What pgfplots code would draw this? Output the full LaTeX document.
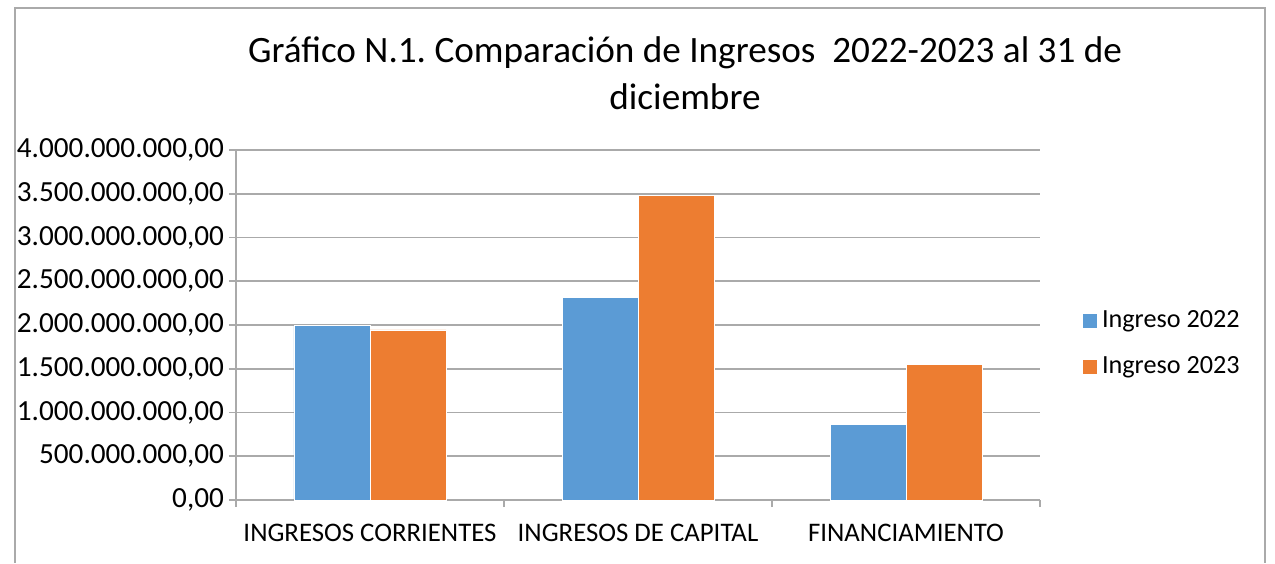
\documentclass[border=0pt]{standalone}
\usepackage{pgfplots}
\pgfplotsset{compat=1.18}
\usepackage{fontspec}
\setmainfont{Carlito}
\frenchspacing
\definecolor{b22}{HTML}{5B9BD5}
\definecolor{o23}{HTML}{ED7D31}
\definecolor{gridg}{RGB}{170,170,170}
\begin{document}
\begin{tikzpicture}
\path[use as bounding box] (0,0) rectangle (637.5pt,281.5pt);
\draw[gridg, line width=0.6pt] (7.5pt,0) -- (7.5pt,277.5pt) -- (632.5pt,277.5pt) -- (632.5pt,0);
\node[font=\fontsize{18.6}{23.5}\selectfont, align=center, inner sep=0pt] at (342.5pt,245pt) {Gráfico N.1. Comparación de Ingresos\ \ 2022-2023 al 31 de\\diciembre};
\begin{axis}[
  at={(118pt,31.5pt)}, anchor=south west,
  scale only axis, width=402pt, height=175pt,
  ybar=0pt, bar width=38pt,
  xmin=-0.5, xmax=2.5, ymin=0, ymax=4000000000,
  scaled y ticks=false,
  axis x line*=bottom, axis y line*=left,
  axis line style={gridg, line width=0.8pt},
  xtick={-0.5,0.5,1.5,2.5},
  x tick label as interval,
  xticklabels={INGRESOS CORRIENTES,INGRESOS DE CAPITAL,FINANCIAMIENTO},
  ytick={0,500000000,1000000000,1500000000,2000000000,2500000000,3000000000,3500000000,4000000000},
  yticklabels={{0,00},{500.000.000,00},{1.000.000.000,00},{1.500.000.000,00},{2.000.000.000,00},{2.500.000.000,00},{3.000.000.000,00},{3.500.000.000,00},{4.000.000.000,00}},
  ymajorgrids, grid style={gridg, line width=0.8pt},
  tick style={gridg, line width=0.8pt},
  tick align=outside, major tick length=3.5pt,
  yticklabel style={font=\fontsize{14.6}{17}\selectfont, text=black, xshift=1pt},
  xticklabel style={font=\fontsize{13.4}{16}\selectfont, text=black, yshift=-5pt},
  legend style={at={(1.052,0.447)}, anchor=west, draw=none, fill=none,
    font=\fontsize{13.1}{16}\selectfont, row sep=9pt, inner sep=0pt,
    legend cell align=left},
  legend image code/.code={\fill[#1] (0pt,-3.75pt) rectangle (7.5pt,3.75pt);},
]
\addplot[fill=b22, draw=white, line width=0.4pt] coordinates {(0,2000000000) (1,2320000000) (2,864000000)};
\addplot[fill=o23, draw=white, line width=0.4pt] coordinates {(0,1943000000) (1,3480000000) (2,1546000000)};
\legend{Ingreso 2022, Ingreso 2023}
\end{axis}
\end{tikzpicture}
\end{document}
